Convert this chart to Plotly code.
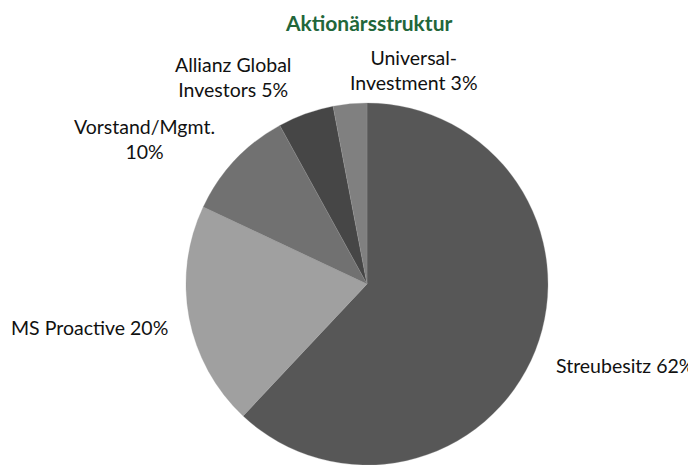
import plotly.graph_objects as go

categories = ["Streubesitz", "MS Proactive", "Vorstand/Mgmt.", "Allianz Global Investors", "Universal-Investment"]
values = [62, 20, 10, 5, 3]
label_texts = ["Streubesitz 62%", "MS Proactive 20%", "Vorstand/Mgmt.<br>10%",
               "Allianz Global<br>Investors 5%", "Universal-<br>Investment 3%"]
colors = ["#575757", "#a0a0a0", "#717171", "#464646", "#808080"]

# the page body keeps its default 8px margin, so the figure is drawn 8px in
OFF = 8
W, H = 696 - OFF, 465 - OFF
FONT = "Lato"


def fx(px):
    return (px - OFF) / W


def fy(py):
    return 1 - (py - OFF) / H


fig = go.Figure()
fig.add_trace(go.Pie(
    labels=categories,
    values=values,
    sort=False,
    direction="clockwise",
    rotation=0,
    marker=dict(colors=colors, line=dict(color="#9a9a9a", width=0.3)),
    textinfo="none",
    hoverinfo="label+percent",
    showlegend=False,
    domain=dict(x=[fx(183), fx(551)], y=[0, fy(103)]),
))

# label anchor positions (pixel centres in the 696x465 view)
label_pos = [(625, 365), (89, 327), (144, 139), (233, 77), (414, 70)]
for txt, (px, py) in zip(label_texts, label_pos):
    fig.add_annotation(
        x=fx(px), y=fy(py), xref="paper", yref="paper",
        text=txt, showarrow=False, align="center",
        xanchor="center", yanchor="middle",
        font=dict(family=FONT, size=19.5, color="#111111"),
    )

fig.add_annotation(
    x=fx(368), y=fy(23), xref="paper", yref="paper",
    text="<b>Aktionärsstruktur</b>", showarrow=False,
    xanchor="center", yanchor="middle",
    font=dict(family=FONT, size=21, color="#22663a"),
)

fig.update_layout(
    width=W, height=H,
    margin=dict(l=0, r=0, t=0, b=0),
    paper_bgcolor="white", plot_bgcolor="white",
)

fig.write_html("out.html")
